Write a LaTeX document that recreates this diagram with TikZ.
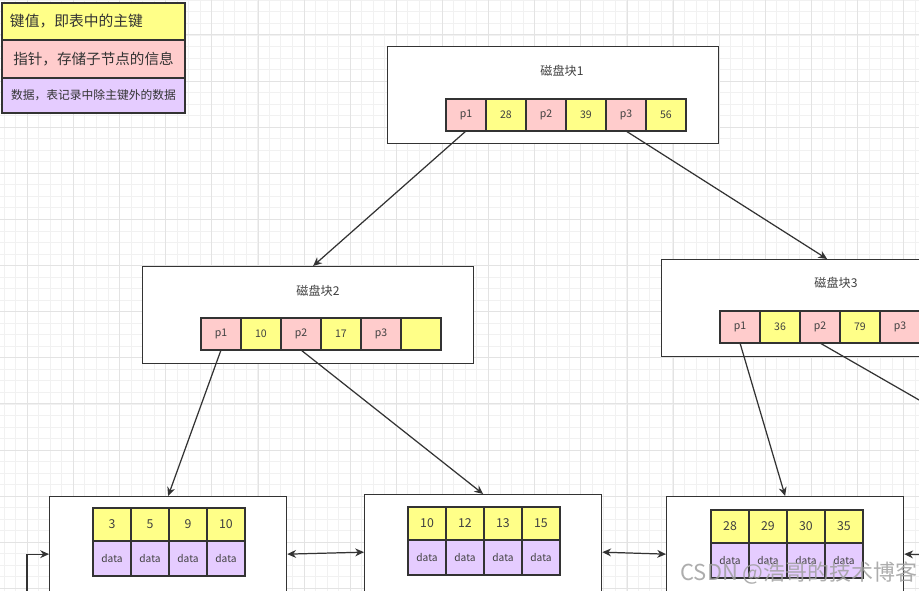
\documentclass[tikz,border=0pt]{standalone}
\usepackage{fontspec}
\setmainfont{Noto Sans CJK SC}
\usetikzlibrary{positioning,arrows.meta}
\definecolor{keyyellow}{HTML}{FFFF88}
\definecolor{ptrpink}{HTML}{FFCCCC}
\definecolor{datpurple}{HTML}{E5CCFF}
\definecolor{edgegray}{HTML}{333333}
\begin{document}
\begin{tikzpicture}[x=0.02cm, y=-0.02cm,
    cell/.style={rectangle, draw=edgegray, line width=0.8pt, outer sep=0pt, inner sep=0pt,
        minimum width=0.8cm, minimum height=0.64cm, text=black!75, font=\fontsize{6}{7}\selectfont},
    keycell/.style={cell, fill=keyyellow},
    ptrcell/.style={cell, fill=ptrpink},
    leafkey/.style={cell, fill=keyyellow, minimum width=0.76cm, minimum height=0.66cm, font=\fontsize{7}{8}\selectfont},
    leafdata/.style={cell, fill=datpurple, minimum width=0.76cm, minimum height=0.7cm, font=\fontsize{5.8}{7}\selectfont},
    block/.style={rectangle, draw=edgegray, line width=0.75pt, fill=white, inner sep=0pt,
        minimum width=6.62cm, minimum height=1.94cm},
    leaf/.style={rectangle, draw=edgegray, line width=0.75pt, fill=white, inner sep=0pt,
        minimum width=4.74cm, minimum height=2.3cm},
    title/.style={text=black!75, font=\fontsize{6.9}{8}\selectfont},
    legend/.style={rectangle, draw=edgegray, line width=0.8pt, outer sep=0pt, inner sep=0pt,
        minimum width=3.66cm, text=black!80},
    link/.style={draw=edgegray, line width=0.7pt, -{Stealth[length=5pt,width=4.5pt]}},
    twoway/.style={link, {Stealth[length=5pt,width=4.5pt]}-{Stealth[length=5pt,width=4.5pt]}},
    gridminor/.style={draw=gray!11, line width=0.4pt},
    gridmajor/.style={draw=gray!22, line width=0.4pt},
    watermark/.style={text=gray!75, opacity=0.85, font=\fontsize{12.5}{14}\selectfont}
]
\useasboundingbox (0,0) rectangle (919,591);
\clip (0,0) rectangle (919,591);
\fill[white] (0,0) rectangle (919,591);

% canvas grid
\foreach \i in {0,...,79} \draw[gridminor] (4.1+\i*11.53,0) -- (4.1+\i*11.53,591);
\foreach \i in {0,...,51} \draw[gridminor] (0,0.3+\i*11.53) -- (919,0.3+\i*11.53);
\foreach \i in {0,...,19} \draw[gridmajor] (27.2+\i*46.13,0) -- (27.2+\i*46.13,591);
\foreach \i in {0,...,12} \draw[gridmajor] (0,34.8+\i*46.13) -- (919,34.8+\i*46.13);

% legend
\node[legend, fill=keyyellow, anchor=north west, minimum height=0.74cm, text width=3.34cm,
    inner xsep=0.16cm, align=left, font=\fontsize{8.4}{10}\selectfont] (lgkey) at (2,3) {键值，即表中的主键};
\node[legend, fill=ptrpink, below=0pt of lgkey, minimum height=0.76cm,
    font=\fontsize{8.3}{10}\selectfont] (lgptr) {指针，存储子节点的信息};
\node[legend, fill=datpurple, below=0pt of lgptr, minimum height=0.7cm,
    font=\fontsize{6.7}{8}\selectfont] (lgdat) {数据，表记录中除主键外的数据};

% disk block 1
\node[block, anchor=north west] (b1) at (387,46) {};
\node[title] (t1) at (562,71) {磁盘块1};
\node[ptrcell, anchor=north west] (b1p1) at (446,99) {p1};
\node[keycell, right=0pt of b1p1] (b1k1) {28};
\node[ptrcell, right=0pt of b1k1] (b1p2) {p2};
\node[keycell, right=0pt of b1p2] (b1k2) {39};
\node[ptrcell, right=0pt of b1k2] (b1p3) {p3};
\node[keycell, right=0pt of b1p3] (b1k3) {56};

% disk block 2
\node[block, anchor=north west] (b2) at (142,266) {};
\node[title] (t2) at (318,291) {磁盘块2};
\node[ptrcell, anchor=north west] (b2p1) at (201,318) {p1};
\node[keycell, right=0pt of b2p1] (b2k1) {10};
\node[ptrcell, right=0pt of b2k1] (b2p2) {p2};
\node[keycell, right=0pt of b2p2] (b2k2) {17};
\node[ptrcell, right=0pt of b2k2] (b2p3) {p3};
\node[keycell, right=0pt of b2p3] (b2k3) {};

% disk block 3
\node[block, anchor=north west] (b3) at (661,259) {};
\node[title] (t3) at (836,283) {磁盘块3};
\node[ptrcell, anchor=north west] (b3p1) at (720,311) {p1};
\node[keycell, right=0pt of b3p1] (b3k1) {36};
\node[ptrcell, right=0pt of b3k1] (b3p2) {p2};
\node[keycell, right=0pt of b3p2] (b3k2) {79};
\node[ptrcell, right=0pt of b3k2] (b3p3) {p3};

% leaf 1
\node[leaf, anchor=north west] (l1) at (49,496) {};
\node[leafkey, anchor=north west] (l1k1) at (93,508) {3};
\node[leafkey, right=0pt of l1k1] (l1k2) {5};
\node[leafkey, right=0pt of l1k2] (l1k3) {9};
\node[leafkey, right=0pt of l1k3] (l1k4) {10};
\node[leafdata, below=0pt of l1k1] (l1d1) {data};
\node[leafdata, below=0pt of l1k2] (l1d2) {data};
\node[leafdata, below=0pt of l1k3] (l1d3) {data};
\node[leafdata, below=0pt of l1k4] (l1d4) {data};

% leaf 2
\node[leaf, anchor=north west] (l2) at (364,494) {};
\node[leafkey, anchor=north west] (l2k1) at (408,507) {10};
\node[leafkey, right=0pt of l2k1] (l2k2) {12};
\node[leafkey, right=0pt of l2k2] (l2k3) {13};
\node[leafkey, right=0pt of l2k3] (l2k4) {15};
\node[leafdata, below=0pt of l2k1] (l2d1) {data};
\node[leafdata, below=0pt of l2k2] (l2d2) {data};
\node[leafdata, below=0pt of l2k3] (l2d3) {data};
\node[leafdata, below=0pt of l2k4] (l2d4) {data};

% leaf 3
\node[leaf, anchor=north west] (l3) at (666,496) {};
\node[leafkey, anchor=north west] (l3k1) at (711,510) {28};
\node[leafkey, right=0pt of l3k1] (l3k2) {29};
\node[leafkey, right=0pt of l3k2] (l3k3) {30};
\node[leafkey, right=0pt of l3k3] (l3k4) {35};
\node[leafdata, below=0pt of l3k1] (l3d1) {data};
\node[leafdata, below=0pt of l3k2] (l3d2) {data};
\node[leafdata, below=0pt of l3k3] (l3d3) {data};
\node[leafdata, below=0pt of l3k4] (l3d4) {data};

% ends outside the view
\coordinate (l0) at (27,600);
\coordinate (l4) at (1086,496);
\coordinate (l4w) at (968,556);

% pointers
\draw[link] (b1p1.south) -- ([xshift=0.1cm]b2.north);
\draw[link] (b1p3.south) -- (b3.north);
\draw[link] (b2p1.south) -- (l1.north);
\draw[link] (b2p2.south) -- (l2.north);
\draw[link] (b3p1.south) -- (l3.north);
\draw[link] (b3p2.south) -- (l4);

% leaf chain
\draw[link] (l0) |- (l1.west);
\draw[twoway] (l1.east) -- (l2.west);
\draw[twoway] (l2.east) -- (l3.west);
\draw[twoway] (l3.east) -- (l4w);

\node[watermark] (wm) at (799,573) {CSDN @浩哥的技术博客};
\end{tikzpicture}
\end{document}
